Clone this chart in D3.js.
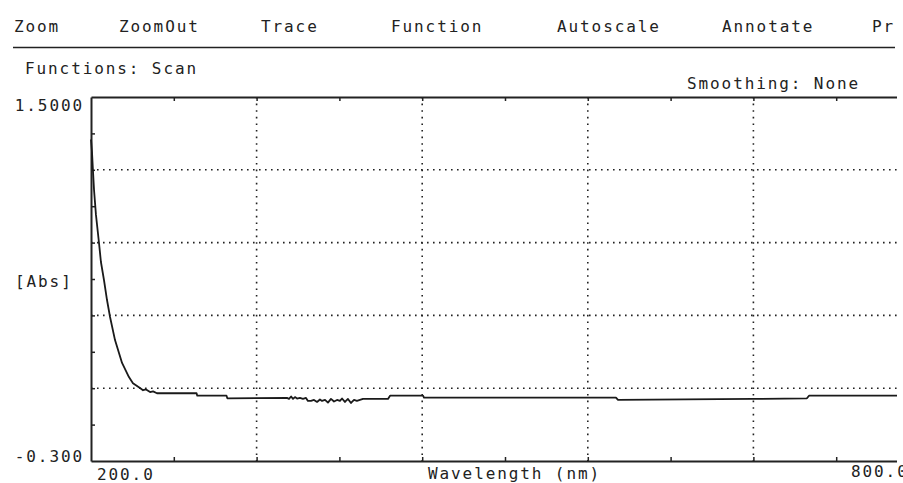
<!DOCTYPE html>
<html>
<head>
<meta charset="utf-8">
<title>Scan</title>
<style>
  body { margin: 0; background: #fff; }
  svg { display: block; }
  text { font-family: "DejaVu Sans Mono", monospace; font-size: 16px; letter-spacing: 1.9px; fill: #222; }
</style>
</head>
<body>
<svg id="chart" width="903" height="483"></svg>
<script src="https://d3js.org/d3.v7.min.js"></script>
<script>
// menu bar
var menuItems = ["Zoom", "ZoomOut", "Trace", "Function", "Autoscale", "Annotate", "Pr"];
var menuX = [14, 119, 261, 391, 557, 722, 872];

// scan data
var wavelength = [200, 200.7, 201.4, 202.2, 203.6, 205.8, 207.2, 209.4, 211.6, 213.8,
    217.4, 222.5, 227.5, 230.4, 235.5, 237.7, 239.9, 242.8, 245, 247.8,
    276.5, 277, 298.2, 298.8, 342, 343.5, 345, 346.4, 347.8, 349.3,
    351.4, 353.6, 355.8, 357.2, 359.4, 361.6, 363.8, 365.9, 367.4, 369.6,
    371.7, 373.9, 376.1, 378.3, 380.4, 381.9, 384, 386.2, 388.4, 390.6,
    392.7, 394.9, 397.1, 415.2, 416.7, 440.6, 441.3, 580.4, 581.9, 679.7,
    718.8, 720.3, 800];
var absorbance = [1.290, 1.230, 1.139, 1.040, 0.917, 0.778, 0.684, 0.595, 0.496, 0.412,
    0.298, 0.185, 0.115, 0.085, 0.061, 0.050, 0.054, 0.041, 0.044, 0.035,
    0.035, 0.023, 0.023, 0.010, 0.012, 0.007, 0.019, 0.007, 0.016, 0.009,
    0.012, 0.007, 0.012, -0.003, -0.003, 0.002, -0.008, 0.004, -0.003, 0.002,
    -0.011, 0.007, -0.006, 0.002, -0.003, 0.009, -0.008, 0.007, -0.013, 0.002,
    -0.003, 0.002, 0.007, 0.007, 0.023, 0.023, 0.013, 0.013, 0.002, 0.007,
    0.010, 0.023, 0.023];

// axes
var xGrid = [320, 440, 560, 680];
var xTicks = [260, 320, 380, 440, 500, 560, 620, 680, 740];
var yGrid = [0.06, 0.42, 0.78, 1.14];
var yTicks = [-0.12, 0.06, 0.24, 0.42, 0.6, 0.78, 0.96, 1.14, 1.32];

var svg = d3.select("#chart");
var ink = "#222";

var x = d3.scaleLinear().domain([200, 800]).range([91, 919]);
var y = d3.scaleLinear().domain([-0.3, 1.5]).range([461, 97]);

// menu
svg.selectAll(".menu").data(menuItems).enter().append("text")
    .attr("class", "menu")
    .attr("x", function(d, i) { return menuX[i]; })
    .attr("y", 32)
    .text(function(d) { return d; });
svg.append("line").attr("x1", 13).attr("x2", 895).attr("y1", 47.5).attr("y2", 47.5)
    .attr("stroke", ink).attr("stroke-width", 1.6);

svg.append("text").attr("x", 25).attr("y", 74).text("Functions: Scan");
svg.append("text").attr("x", 687).attr("y", 89).text("Smoothing: None");

// plot
svg.append("clipPath").attr("id", "clip").append("rect")
    .attr("x", 80).attr("y", 90).attr("width", 817).attr("height", 380);
var plot = svg.append("g").attr("clip-path", "url(#clip)");

plot.selectAll(".vgrid").data(xGrid).enter().append("line")
    .attr("x1", x).attr("x2", x).attr("y1", y(1.5)).attr("y2", y(-0.3))
    .attr("stroke", ink).attr("stroke-width", 1.6).attr("stroke-dasharray", "1.6,5");
plot.selectAll(".hgrid").data(yGrid).enter().append("line")
    .attr("x1", x(200)).attr("x2", x(800)).attr("y1", y).attr("y2", y)
    .attr("stroke", ink).attr("stroke-width", 1.6).attr("stroke-dasharray", "1.6,4.4");

function styleAxis(g) {
    g.select(".domain").attr("stroke", ink).attr("stroke-width", 2);
    g.selectAll(".tick line").attr("stroke", ink).attr("stroke-width", 1.5);
}

plot.append("g").attr("transform", "translate(0," + y(-0.3) + ")")
    .call(d3.axisBottom(x).tickValues(xTicks).tickSize(-4).tickSizeOuter(0).tickFormat(""))
    .call(styleAxis);
plot.append("g").attr("transform", "translate(0," + y(1.5) + ")")
    .call(d3.axisTop(x).tickValues(xTicks).tickSize(-4).tickSizeOuter(0).tickFormat(""))
    .call(styleAxis);
plot.append("g").attr("transform", "translate(" + x(200) + ",0)")
    .call(d3.axisLeft(y).tickValues(yTicks).tickSize(-4).tickSizeOuter(0).tickFormat(""))
    .call(styleAxis);

var line = d3.line()
    .x(function(d, i) { return x(wavelength[i]); })
    .y(function(d) { return y(d); });
plot.append("path").datum(absorbance)
    .attr("d", line)
    .attr("fill", "none").attr("stroke", "#1a1a1a").attr("stroke-width", 1.8)
    .attr("stroke-linejoin", "round");

// axis labels
svg.append("text").attr("x", 84).attr("y", y(1.5) + 14).attr("text-anchor", "end").text("1.5000");
svg.append("text").attr("x", 84).attr("y", y(-0.3) + 1).attr("text-anchor", "end").text("-0.300");
svg.append("text").attr("x", 15).attr("y", 287).text("[Abs]");
svg.append("text").attr("x", 97).attr("y", 480).text("200.0");
svg.append("text").attr("x", 428).attr("y", 479).text("Wavelength (nm)");
svg.append("text").attr("x", 851).attr("y", 477).text("800.0");
</script>
</body>
</html>
